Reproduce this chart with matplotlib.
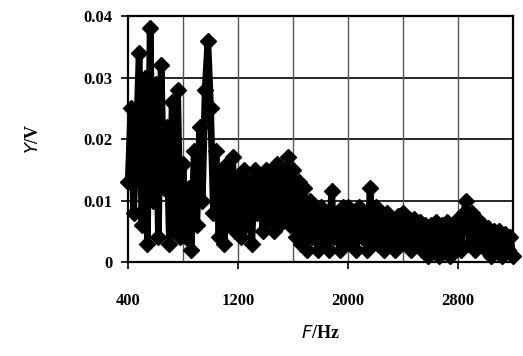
import numpy as np
import matplotlib
matplotlib.use("Agg")
import matplotlib.pyplot as plt

# frecuencia de barrido (Hz) y amplitud medida (V)
freq = np.arange(400, 3201, 20)
amp = [
    # 400 - 780
    0.013, 0.025, 0.008, 0.020, 0.034, 0.006, 0.030, 0.003, 0.038, 0.010,
    0.029, 0.004, 0.032, 0.012, 0.022, 0.003, 0.026, 0.005, 0.028, 0.004,
    # 800 - 1180
    0.016, 0.004, 0.012, 0.002, 0.018, 0.006, 0.022, 0.010, 0.028, 0.036,
    0.025, 0.008, 0.018, 0.004, 0.015, 0.003, 0.016, 0.006, 0.017, 0.005,
    # 1200 - 1580
    0.014, 0.004, 0.015, 0.006, 0.013, 0.003, 0.015, 0.008, 0.014, 0.005,
    0.015, 0.007, 0.014, 0.005, 0.016, 0.006, 0.015, 0.007, 0.017, 0.006,
    # 1600 - 1980
    0.015, 0.004, 0.013, 0.003, 0.012, 0.002, 0.010, 0.004, 0.009, 0.002,
    0.009, 0.003, 0.008, 0.002, 0.0115, 0.004, 0.008, 0.002, 0.009, 0.003,
    # 2000 - 2380
    0.009, 0.003, 0.008, 0.002, 0.009, 0.004, 0.008, 0.002, 0.012, 0.004,
    0.009, 0.003, 0.008, 0.002, 0.008, 0.003, 0.007, 0.002, 0.0075, 0.003,
    # 2400 - 2780
    0.008, 0.003, 0.007, 0.002, 0.007, 0.003, 0.0065, 0.002, 0.006, 0.001,
    0.006, 0.002, 0.0065, 0.001, 0.006, 0.002, 0.0065, 0.001, 0.006, 0.002,
    # 2800 - 3200
    0.007, 0.002, 0.008, 0.010, 0.003, 0.008, 0.002, 0.007, 0.003, 0.006,
    0.002, 0.0055, 0.001, 0.005, 0.002, 0.005, 0.001, 0.0045, 0.002, 0.004,
    0.001,
]

xticks = [400, 1200, 2000, 2800]
yticks = [0, 0.01, 0.02, 0.03, 0.04]
ylabels = ["0", "0.01", "0.02", "0.03", "0.04"]

plt.rcParams["font.family"] = ["Liberation Serif", "DejaVu Serif"]

fig = plt.figure(figsize=(5.23, 3.56), dpi=100)
ax = fig.add_axes([0.245, 0.264, 0.736, 0.691])

# rejilla: horizontales negras, verticales grises
for y in yticks[1:-1]:
    ax.axhline(y, color="black", lw=1.2, zorder=1)
for x in range(800, 3200, 400):
    ax.axvline(x, color="#555555", lw=1.0, zorder=1)

ax.plot(freq, amp, color="black", lw=4.8, marker="D", markersize=8,
        zorder=3, clip_on=False)

ax.set_xlim(400, 3200)
ax.set_ylim(0, 0.04)
ax.set_xticks(xticks)
ax.set_xticklabels([str(t) for t in xticks], fontsize=12, fontweight="bold")
ax.set_yticks(yticks)
ax.set_yticklabels(ylabels, fontsize=12, fontweight="bold")
ax.tick_params(axis="y", direction="out", length=5, width=1.2, pad=6)
ax.tick_params(axis="x", direction="out", length=5, width=1.2, pad=17)

for s in ax.spines.values():
    s.set_linewidth(1.6)

ax.set_xlabel(r"$\it{F}$/Hz", fontsize=13, fontweight="bold", labelpad=12)
ax.set_ylabel(r"$\it{Y}$/V", fontsize=13, fontweight="bold", labelpad=30)

fig.savefig("out.png", dpi=100)
